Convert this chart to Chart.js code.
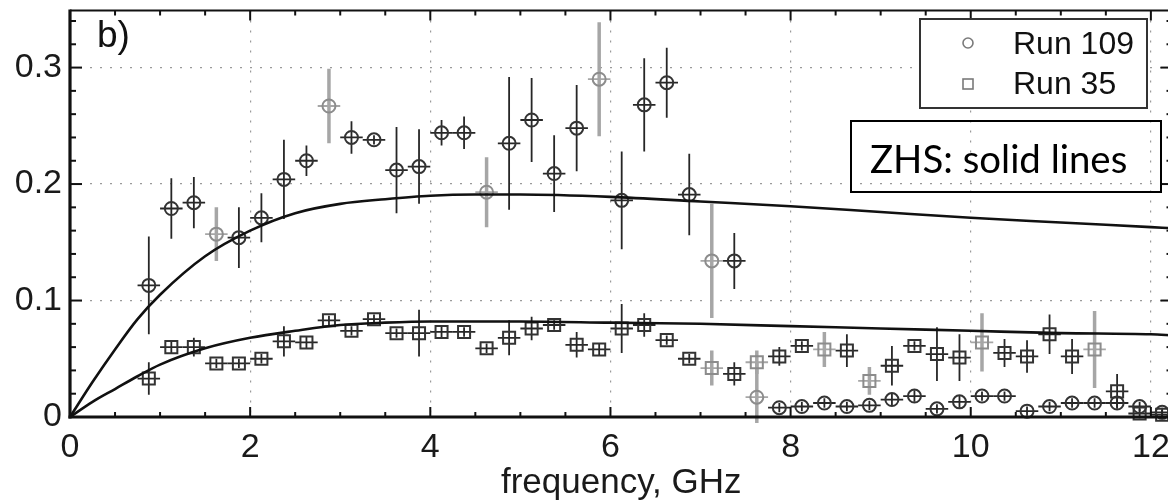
<!DOCTYPE html>
<html><head><meta charset="utf-8">
<script src="https://cdn.jsdelivr.net/npm/chart.js@4.4.0/dist/chart.umd.min.js"></script>
<style>html,body{margin:0;padding:0;background:#fff;overflow:hidden}#wrap{width:1183px;height:503px;position:relative}canvas{display:block}</style>
</head><body><div id="wrap"><canvas id="c" width="1183" height="503"></canvas></div>
<script>
// ---------------- data ----------------
const frequencies = [0.875,1.125,1.375,1.625,1.875,2.125,2.375,2.625,2.875,3.125,3.375,3.625,3.875,4.125,4.375,4.625,4.875,5.125,5.375,5.625,5.875,6.125,6.375,6.625,6.875,7.125,7.375,7.625,7.875,8.125,8.375,8.625,8.875,9.125,9.375,9.625,9.875,10.125,10.375,10.625,10.875,11.125,11.375,11.625,11.875,12.125];
const run109 = [0.113,0.179,0.184,0.157,0.154,0.171,0.204,0.220,0.267,0.240,0.238,0.212,0.215,0.244,0.244,0.193,0.235,0.255,0.209,0.248,0.290,0.186,0.268,0.287,0.191,0.134,0.134,0.017,0.008,0.009,0.012,0.009,0.010,0.015,0.018,0.007,0.013,0.018,0.018,0.005,0.009,0.012,0.012,0.012,0.009,0.004];
const run109Err = [0.042,0.026,0.022,0.023,0.026,0.021,0.034,0.013,0.032,0.014,0.004,0.037,0.032,0.011,0.014,0.030,0.057,0.036,0.033,0.037,0.049,0.042,0.040,0.030,0.035,0.049,0.024,0.030,0.004,0.004,0.004,0.004,0.004,0.005,0.005,0.004,0.005,0.004,0.004,0.004,0.004,0.004,0.004,0.004,0.004,0.004];
const run35 = [0.033,0.060,0.060,0.046,0.046,0.050,0.065,0.064,0.083,0.074,0.084,0.072,0.072,0.073,0.073,0.059,0.068,0.076,0.079,0.062,0.058,0.076,0.079,0.066,0.050,0.042,0.037,0.047,0.052,0.061,0.058,0.057,0.031,0.044,0.061,0.054,0.051,0.064,0.055,0.052,0.071,0.052,0.058,0.022,0.003,0.002];
const run35Err = [0.014,0.005,0.008,0.004,0.004,0.004,0.013,0.005,0.004,0.004,0.004,0.004,0.020,0.005,0.004,0.004,0.015,0.010,0.004,0.011,0.005,0.021,0.010,0.004,0.004,0.015,0.010,0.010,0.008,0.004,0.015,0.014,0.012,0.017,0.004,0.023,0.020,0.025,0.012,0.014,0.017,0.015,0.033,0.015,0.004,0.004];
const zhsFreq = [0,0.25,0.5,0.75,1,1.5,2,2.5,3,3.5,4,4.5,5,6,7,8,9,10,11,12,12.25];
const zhs109 = [0,0.030,0.058,0.084,0.105,0.138,0.160,0.175,0.183,0.187,0.190,0.191,0.191,0.189,0.185,0.181,0.176,0.171,0.167,0.163,0.162];
const zhs35 = [0,0.013,0.024,0.035,0.045,0.059,0.068,0.074,0.079,0.081,0.082,0.082,0.082,0.081,0.080,0.078,0.076,0.074,0.072,0.071,0.070];
const xTicks = [0,2,4,6,8,10,12];
const yTicks = [0,0.1,0.2,0.3];
const seriesNames = ['Run 109','Run 35'];
const panelLabel = 'b)';
const noteText = 'ZHS: solid lines';
const xTitle = 'frequency, GHz';

// ---------------- styling ----------------
const FONT = '"Liberation Sans", Arial, Helvetica, sans-serif';
const ERR_HALF_WIDTH = 0.125;
const faint109 = [3,8,15,20,25,27];
const faint35 = [25,27,30,32,37,42];
const DARK = '#262626', GRAY = '#a6a6a6';

const errorBars = {
  id: 'errorBars',
  beforeDatasetsDraw(chart) {
    const {ctx, scales: {x, y}, chartArea: a} = chart;
    ctx.save();
    ctx.beginPath(); ctx.rect(a.left, a.top, a.right - a.left, a.bottom - a.top + 6); ctx.clip();
    [[run109, run109Err, faint109], [run35, run35Err, faint35]].forEach(([vals, errs, faint]) => {
      vals.forEach((v, i) => {
        const f = frequencies[i];
        const px = x.getPixelForValue(f), py = y.getPixelForValue(v);
        const gray = faint.includes(i);
        ctx.strokeStyle = gray ? GRAY : DARK;
        ctx.lineWidth = gray ? 3.5 : 1.8;
        ctx.beginPath();
        ctx.moveTo(px, y.getPixelForValue(v + errs[i]));
        ctx.lineTo(px, y.getPixelForValue(v - errs[i]));
        ctx.stroke();
        ctx.lineWidth = 1.8;
        ctx.beginPath();
        ctx.moveTo(x.getPixelForValue(f - ERR_HALF_WIDTH), py);
        ctx.lineTo(x.getPixelForValue(f + ERR_HALF_WIDTH), py);
        ctx.stroke();
      });
    });
    ctx.restore();
  }
};

const frame = {
  id: 'frame',
  afterDatasetsDraw(chart) {
    const {ctx, scales: {x, y}, chartArea: a} = chart;
    ctx.save();
    ctx.strokeStyle = '#111';
    ctx.lineWidth = 2;
    const tick = (x1, y1, x2, y2) => { ctx.beginPath(); ctx.moveTo(x1, y1); ctx.lineTo(x2, y2); ctx.stroke(); };
    for (let v = 0; v <= x.max + 1e-9; v += 0.5) {
      const px = x.getPixelForValue(v);
      const major = Math.abs(v / 2 - Math.round(v / 2)) < 1e-6;
      const L = major ? 10 : 5;
      tick(px, a.bottom, px, a.bottom - L);
      tick(px, a.top, px, a.top + L);
    }
    for (let v = 0; v <= y.max + 1e-9; v += 0.02) {
      const py = y.getPixelForValue(v);
      const major = Math.abs(v * 10 - Math.round(v * 10)) < 1e-6;
      const L = major ? 12 : 6;
      tick(a.left, py, a.left + L, py);
      tick(a.right, py, a.right - L, py);
    }
    ctx.lineWidth = 2;
    tick(a.left, a.top, a.right, a.top);
    tick(a.right, a.top, a.right, a.bottom);
    ctx.lineWidth = 3.2;
    tick(a.left, a.top - 1, a.left, a.bottom + 1.5);
    tick(a.left - 1.5, a.bottom, a.right, a.bottom);

    ctx.fillStyle = '#111';
    ctx.font = '37px ' + FONT;
    ctx.textBaseline = 'alphabetic';
    ctx.textAlign = 'left';
    ctx.fillText(panelLabel, 97, 47);

    const lx = 920, ly = 19, lw = 227, lh = 89;
    ctx.fillStyle = '#fff';
    ctx.fillRect(lx, ly, lw, lh);
    ctx.strokeStyle = '#333';
    ctx.lineWidth = 2;
    ctx.strokeRect(lx, ly, lw, lh);
    ctx.strokeStyle = '#7a7a7a';
    ctx.lineWidth = 1.6;
    ctx.beginPath(); ctx.arc(968, 43, 5, 0, Math.PI * 2); ctx.stroke();
    ctx.strokeRect(963, 79, 10, 10);
    ctx.fillStyle = '#111';
    ctx.font = '32px ' + FONT;
    ctx.textBaseline = 'middle';
    ctx.fillText(seriesNames[0], 1013, 45);
    ctx.fillText(seriesNames[1], 1013, 85);

    ctx.strokeStyle = '#000';
    ctx.lineWidth = 2;
    ctx.strokeRect(851, 121, 310, 71);
    ctx.font = '36px Lato, "Open Sans", sans-serif';
    const w0 = ctx.measureText(noteText).width;
    const fs = 36 * 257 / w0;
    ctx.font = fs.toFixed(1) + 'px Lato, "Open Sans", sans-serif';
    ctx.textBaseline = 'alphabetic';
    ctx.fillStyle = '#000';
    ctx.fillText(noteText, 870, 173);
    ctx.restore();
  }
};

const pointColor = faint => ctx => faint.includes(ctx.dataIndex) ? '#8c8c8c' : '#333';
const noPad = s => { s.paddingTop = 0; s.paddingBottom = 0; s.paddingLeft = 0; s.paddingRight = 0; };

new Chart(document.getElementById('c'), {
  type: 'scatter',
  data: {
    datasets: [
      {label: 'ZHS 109', type: 'line', data: zhsFreq.map((f, i) => ({x: f, y: zhs109[i]})), borderColor: '#111', borderWidth: 2.6, pointRadius: 0, cubicInterpolationMode: 'monotone', fill: false},
      {label: 'ZHS 35', type: 'line', data: zhsFreq.map((f, i) => ({x: f, y: zhs35[i]})), borderColor: '#111', borderWidth: 2.6, pointRadius: 0, cubicInterpolationMode: 'monotone', fill: false},
      {label: seriesNames[0], data: frequencies.map((f, i) => ({x: f, y: run109[i]})), pointStyle: 'circle', pointRadius: 6.5, pointBorderWidth: 2, pointBackgroundColor: 'rgba(0,0,0,0)', pointBorderColor: pointColor(faint109), clip: false},
      {label: seriesNames[1], data: frequencies.map((f, i) => ({x: f, y: run35[i]})), pointStyle: 'rect', pointRadius: 8.5, pointBorderWidth: 2, pointBackgroundColor: 'rgba(0,0,0,0)', pointBorderColor: pointColor(faint35), clip: false}
    ]
  },
  options: {
    responsive: false,
    animation: false,
    devicePixelRatio: 1,
    layout: {padding: {top: 10, right: 5, left: 0, bottom: 0}},
    plugins: {legend: {display: false}, tooltip: {enabled: false}},
    scales: {
      x: {
        type: 'linear', min: 0, max: 12.24,
        afterBuildTicks: s => { s.ticks = xTicks.map(v => ({value: v})); },
        afterFit: s => { s.height = 86; noPad(s); },
        grid: {color: '#9a9a9a', lineWidth: 1.2, drawTicks: false, tickLength: 0},
        border: {display: false, dash: [2, 8]},
        ticks: {font: {family: FONT, size: 34}, color: '#1a1a1a', padding: 10, maxRotation: 0, autoSkip: false, callback: v => String(v)},
        title: {display: true, text: xTitle, font: {family: FONT, size: 35, lineHeight: 1.1}, color: '#1a1a1a', padding: {top: 0, bottom: 0}}
      },
      y: {
        type: 'linear', min: 0, max: 0.349,
        afterBuildTicks: s => { s.ticks = yTicks.map(v => ({value: v})); },
        afterFit: s => { s.width = 70; noPad(s); },
        grid: {color: '#9a9a9a', lineWidth: 1.2, drawTicks: false, tickLength: 0},
        border: {display: false, dash: [2, 8]},
        ticks: {font: {family: FONT, size: 34}, color: '#1a1a1a', padding: 8, callback: v => String(v)}
      }
    }
  },
  plugins: [errorBars, frame]
});
</script>
</body></html>
